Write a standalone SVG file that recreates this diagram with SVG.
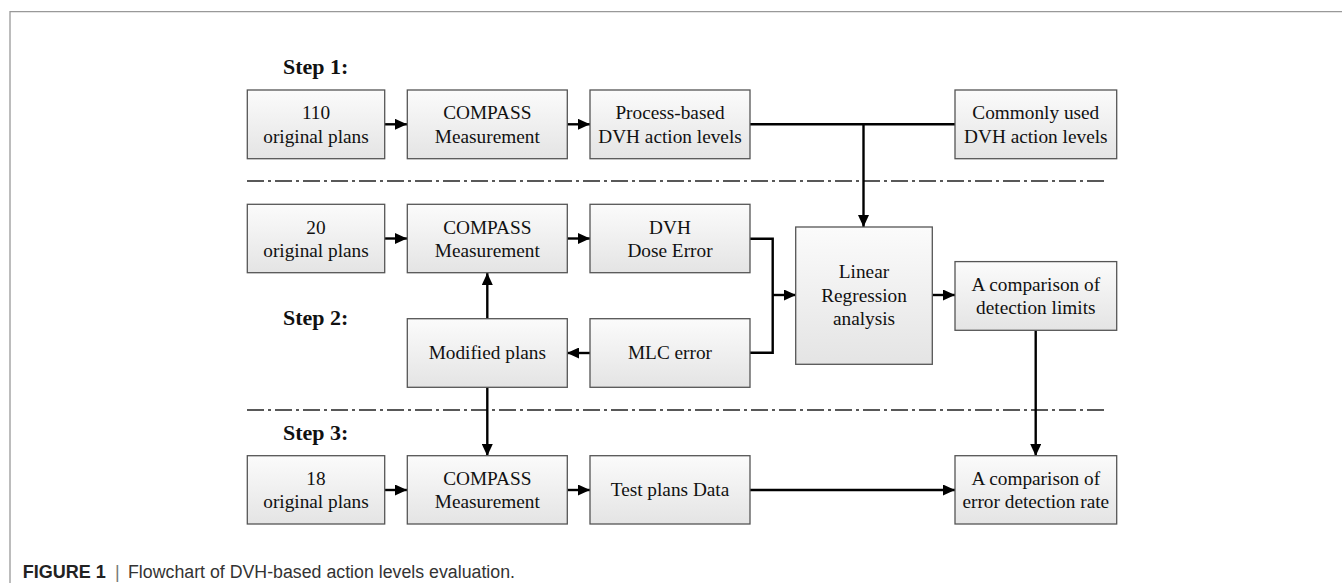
<svg xmlns="http://www.w3.org/2000/svg" width="1342" height="587" viewBox="0 0 1342 587">
<defs>
<linearGradient id="g" x1="0" y1="0" x2="0" y2="1">
<stop offset="0" stop-color="#fbfbfb"/>
<stop offset="1" stop-color="#e4e4e4"/>
</linearGradient>
<marker id="ah" markerWidth="12" markerHeight="11" refX="12" refY="5.5" orient="auto" markerUnits="userSpaceOnUse">
<path d="M0,0 L12,5.5 L0,11 Z" fill="#000"/>
</marker>
<style>
.box{fill:url(#g);stroke:#555;stroke-width:1.3}
.t{font-family:"Liberation Serif","Times New Roman",serif;font-size:19.3px;fill:#111;text-anchor:middle}
.step{font-family:"Liberation Serif","Times New Roman",serif;font-size:22px;font-weight:bold;fill:#111}
.c{fill:none;stroke:#000;stroke-width:2.4}
.a{marker-end:url(#ah)}
.dash{stroke:#222;stroke-width:1.5;stroke-dasharray:17 4 3 4}
.frame{stroke:#999;stroke-width:1.3;fill:none}
</style>
</defs>
<rect width="1342" height="587" fill="#fff"/>
<path class="frame" d="M10,583 V11.7 H1342"/>

<g id="labels">
<text class="step" x="283" y="74">Step 1:</text>
<text class="step" x="283" y="324.5">Step 2:</text>
<text class="step" x="283" y="439.5">Step 3:</text>
</g>

<g id="separators">
<line class="dash" x1="247" y1="181" x2="1108" y2="181"/>
<line class="dash" x1="247" y1="410" x2="1108" y2="410"/>
</g>

<g id="connectors">
<line class="c a" x1="385" y1="124.3" x2="407" y2="124.3"/>
<line class="c a" x1="567" y1="124.3" x2="590" y2="124.3"/>
<line class="c" x1="750" y1="124.3" x2="955" y2="124.3"/>
<line class="c a" x1="863.5" y1="124.3" x2="863.5" y2="227"/>
<line class="c a" x1="385" y1="238.5" x2="407" y2="238.5"/>
<line class="c a" x1="567" y1="238.5" x2="590" y2="238.5"/>
<path class="c" d="M750,238.7 H772.7 V352.7 H750"/>
<line class="c a" x1="772.7" y1="295" x2="796" y2="295"/>
<line class="c a" x1="932" y1="295" x2="955" y2="295"/>
<line class="c a" x1="590" y1="353" x2="567" y2="353"/>
<line class="c a" x1="487.3" y1="319" x2="487.3" y2="273"/>
<line class="c a" x1="487.3" y1="387.3" x2="487.3" y2="456"/>
<line class="c a" x1="1035.7" y1="330.3" x2="1035.7" y2="456"/>
<line class="c a" x1="385" y1="490" x2="407" y2="490"/>
<line class="c a" x1="567" y1="490" x2="590" y2="490"/>
<line class="c a" x1="750" y1="490" x2="955" y2="490"/>
</g>

<g id="n110">
<rect class="box" x="247.3" y="90" width="137.4" height="68.7"/>
<text class="t" x="316" y="119.3">110</text>
<text class="t" x="316" y="142.7">original plans</text>
</g>
<g id="compass1">
<rect class="box" x="407.3" y="90" width="160" height="68.7"/>
<text class="t" x="487.3" y="119.3">COMPASS</text>
<text class="t" x="487.3" y="142.7">Measurement</text>
</g>
<g id="process">
<rect class="box" x="590" y="90" width="160" height="68.7"/>
<text class="t" x="670" y="119.3">Process-based</text>
<text class="t" x="670" y="142.7">DVH action levels</text>
</g>
<g id="common">
<rect class="box" x="955" y="90" width="161.7" height="68.7"/>
<text class="t" x="1035.8" y="119.3">Commonly used</text>
<text class="t" x="1035.8" y="142.7">DVH action levels</text>
</g>

<g id="n20">
<rect class="box" x="247.3" y="204.3" width="137.4" height="68.4"/>
<text class="t" x="316" y="233.5">20</text>
<text class="t" x="316" y="256.9">original plans</text>
</g>
<g id="compass2">
<rect class="box" x="407.3" y="204.3" width="160" height="68.4"/>
<text class="t" x="487.3" y="233.5">COMPASS</text>
<text class="t" x="487.3" y="256.9">Measurement</text>
</g>
<g id="dvh">
<rect class="box" x="590" y="204.3" width="160" height="68.4"/>
<text class="t" x="670" y="233.5">DVH</text>
<text class="t" x="670" y="256.9">Dose Error</text>
</g>
<g id="linear">
<rect class="box" x="795.7" y="227" width="136.6" height="137.3"/>
<text class="t" x="864" y="278.3">Linear</text>
<text class="t" x="864" y="301.7">Regression</text>
<text class="t" x="864" y="325.1">analysis</text>
</g>
<g id="limits">
<rect class="box" x="955" y="261.6" width="161.7" height="68.7"/>
<text class="t" x="1035.8" y="290.9">A comparison of</text>
<text class="t" x="1035.8" y="314.3">detection limits</text>
</g>
<g id="modified">
<rect class="box" x="407.3" y="318.7" width="160" height="68.6"/>
<text class="t" x="487.3" y="359.3">Modified plans</text>
</g>
<g id="mlc">
<rect class="box" x="590" y="318.7" width="160" height="68.6"/>
<text class="t" x="670" y="359.3">MLC error</text>
</g>

<g id="n18">
<rect class="box" x="247.3" y="455.7" width="137.4" height="68.3"/>
<text class="t" x="316" y="484.8">18</text>
<text class="t" x="316" y="508.2">original plans</text>
</g>
<g id="compass3">
<rect class="box" x="407.3" y="455.7" width="160" height="68.3"/>
<text class="t" x="487.3" y="484.8">COMPASS</text>
<text class="t" x="487.3" y="508.2">Measurement</text>
</g>
<g id="test">
<rect class="box" x="590" y="455.7" width="160" height="68.3"/>
<text class="t" x="670" y="496.2">Test plans Data</text>
</g>
<g id="rate">
<rect class="box" x="955" y="455.7" width="161.7" height="68.3"/>
<text class="t" x="1035.8" y="484.8">A comparison of</text>
<text class="t" x="1035.8" y="508.2">error detection rate</text>
</g>

<g id="caption" font-family="'Liberation Sans',Arial,sans-serif" font-size="18" fill="#333">
<text x="22.7" y="577.7" font-weight="bold" fill="#222">FIGURE 1</text>
<text x="115" y="577.7" fill="#777">|</text>
<text x="128" y="577.7" textLength="387" lengthAdjust="spacingAndGlyphs">Flowchart of DVH-based action levels evaluation.</text>
</g>
</svg>
